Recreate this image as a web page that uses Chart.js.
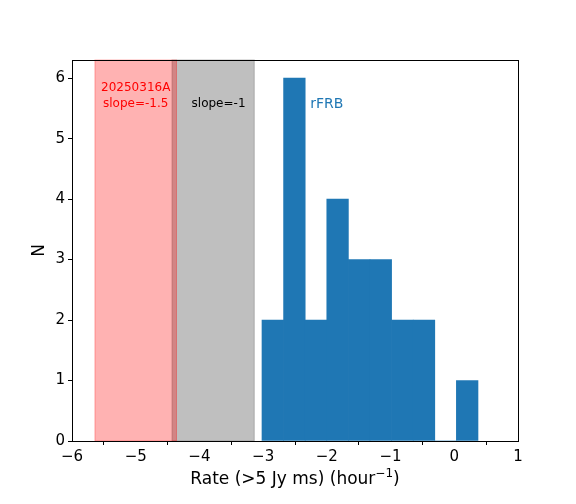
<!DOCTYPE html>
<html>
<head>
<meta charset="utf-8">
<script src="https://cdn.jsdelivr.net/npm/chart.js@4/dist/chart.umd.min.js"></script>
<style>
  html, body { margin: 0; padding: 0; background: #fff; }
  #wrap { width: 576px; height: 504px; }
</style>
</head>
<body>
<div id="wrap"><canvas id="chart" width="576" height="504"></canvas></div>
<script>
// histogram of rFRB rates (log10), bin centres and counts
const binCenters = [-2.8485, -2.5095, -2.1705, -1.8315, -1.4925, -1.1535, -0.8145, -0.4755, -0.1365, 0.2025];
const binCounts = [2, 6, 2, 4, 3, 3, 2, 2, 0, 1];

// shaded ranges for the two slope assumptions
const greySpan = [-4.43, -3.14];
const redSpan = [-5.64, -4.36];

const xTicks = [-6, -5, -4, -3, -2, -1, 0, 1];
const yTicks = [0, 1, 2, 3, 4, 5, 6];

// text labels: [x, y, text, colour, size]
const notes = [
  [-5.0, 5.84, '20250316A', '#ff0000', 12],
  [-5.0, 5.57, 'slope=-1.5', '#ff0000', 12],
  [-3.7, 5.57, 'slope=-1', '#000000', 12],
  [-2.0, 5.57, 'rFRB', '#1f77b4', 14],
];

const xTitle = ['Rate (>5 Jy ms) (hour', '\u22121', ')'];

const FONT = '"DejaVu Sans", sans-serif';

// Plugin that draws the vertical spans, the notes, the x title and the closed frame.
const decorPlugin = {
  id: 'decor',
  beforeDatasetsDraw: (chart) => {
    const { ctx, chartArea: { top, bottom }, scales: { x } } = chart;
    const drawSpan = (span, fill) => {
      const x0 = x.getPixelForValue(span[0]);
      const x1 = x.getPixelForValue(span[1]);
      ctx.save();
      ctx.fillStyle = fill;
      ctx.fillRect(x0, top, x1 - x0, bottom - top);
      ctx.strokeStyle = fill;
      ctx.lineWidth = 1;
      ctx.strokeRect(x0, top, x1 - x0, bottom - top);
      ctx.restore();
    };
    drawSpan(greySpan, 'rgba(128,128,128,0.5)');
    drawSpan(redSpan, 'rgba(255,0,0,0.3)');
  },
  afterDatasetsDraw: (chart) => {
    const { ctx, scales: { x, y } } = chart;
    ctx.save();
    ctx.textAlign = 'center';
    ctx.textBaseline = 'middle';
    notes.forEach(([nx, ny, text, color, size]) => {
      ctx.font = `${size}px ${FONT}`;
      ctx.fillStyle = color;
      ctx.fillText(text, x.getPixelForValue(nx), y.getPixelForValue(ny));
    });
    ctx.restore();
  },
  afterDraw: (chart) => {
    const { ctx, chartArea: { left, top, right, bottom } } = chart;
    ctx.save();
    ctx.strokeStyle = '#000';
    ctx.lineWidth = 1;
    ctx.strokeRect(Math.round(left) + 0.5, Math.round(top) + 0.5, Math.round(right - left), Math.round(bottom - top));

    // x axis title with a real superscript
    const mainFont = `17px ${FONT}`;
    const supFont = `12px ${FONT}`;
    ctx.fillStyle = '#000';
    ctx.textBaseline = 'alphabetic';
    ctx.textAlign = 'left';
    ctx.font = mainFont;
    const w0 = ctx.measureText(xTitle[0]).width;
    const w2 = ctx.measureText(xTitle[2]).width;
    ctx.font = supFont;
    const w1 = ctx.measureText(xTitle[1]).width;
    const total = w0 + w1 + w2;
    let cx = (left + right) / 2 - total / 2;
    const base = 484;
    ctx.font = mainFont;
    ctx.fillText(xTitle[0], cx, base);
    cx += w0;
    ctx.font = supFont;
    ctx.fillText(xTitle[1], cx, base - 7);
    cx += w1;
    ctx.font = mainFont;
    ctx.fillText(xTitle[2], cx, base);
    ctx.restore();
  }
};

new Chart(document.getElementById('chart').getContext('2d'), {
  type: 'bar',
  data: {
    datasets: [{
      data: binCenters.map((c, i) => ({ x: c, y: binCounts[i] })),
      backgroundColor: '#1f77b4',
      borderWidth: 0,
      barPercentage: 1.0,
      categoryPercentage: 1.0,
    }]
  },
  options: {
    responsive: false,
    animation: false,
    devicePixelRatio: 1,
    layout: { padding: { left: 0, right: 58, top: 60, bottom: 0 } },
    plugins: { legend: { display: false }, tooltip: { enabled: false } },
    scales: {
      x: {
        type: 'linear',
        min: -6,
        max: 1,
        offset: false,
        afterBuildTicks: (scale) => { scale.ticks = xTicks.map(v => ({ value: v })); },
        afterFit: (scale) => { scale.height = 63; },
        grid: { drawOnChartArea: false, drawTicks: true, tickLength: 4, tickColor: '#000' },
        border: { display: true, color: '#000' },
        ticks: {
          color: '#000',
          padding: 3,
          maxRotation: 0,
          font: { family: FONT, size: 15 },
          callback: (v) => String(v).replace('-', '\u2212'),
        },
        title: { display: false },
      },
      y: {
        min: 0,
        max: 6.3,
        afterBuildTicks: (scale) => { scale.ticks = yTicks.map(v => ({ value: v })); },
        afterFit: (scale) => { scale.width = 72; },
        grid: { drawOnChartArea: false, drawTicks: true, tickLength: 4, tickColor: '#000' },
        border: { display: true, color: '#000' },
        ticks: {
          color: '#000',
          padding: 3,
          font: { family: FONT, size: 15 },
        },
        title: {
          display: true,
          text: 'N',
          color: '#000',
          font: { family: FONT, size: 17 },
          padding: { top: 29, bottom: 0 },
        },
      }
    }
  },
  plugins: [decorPlugin]
});
</script>
</body>
</html>
